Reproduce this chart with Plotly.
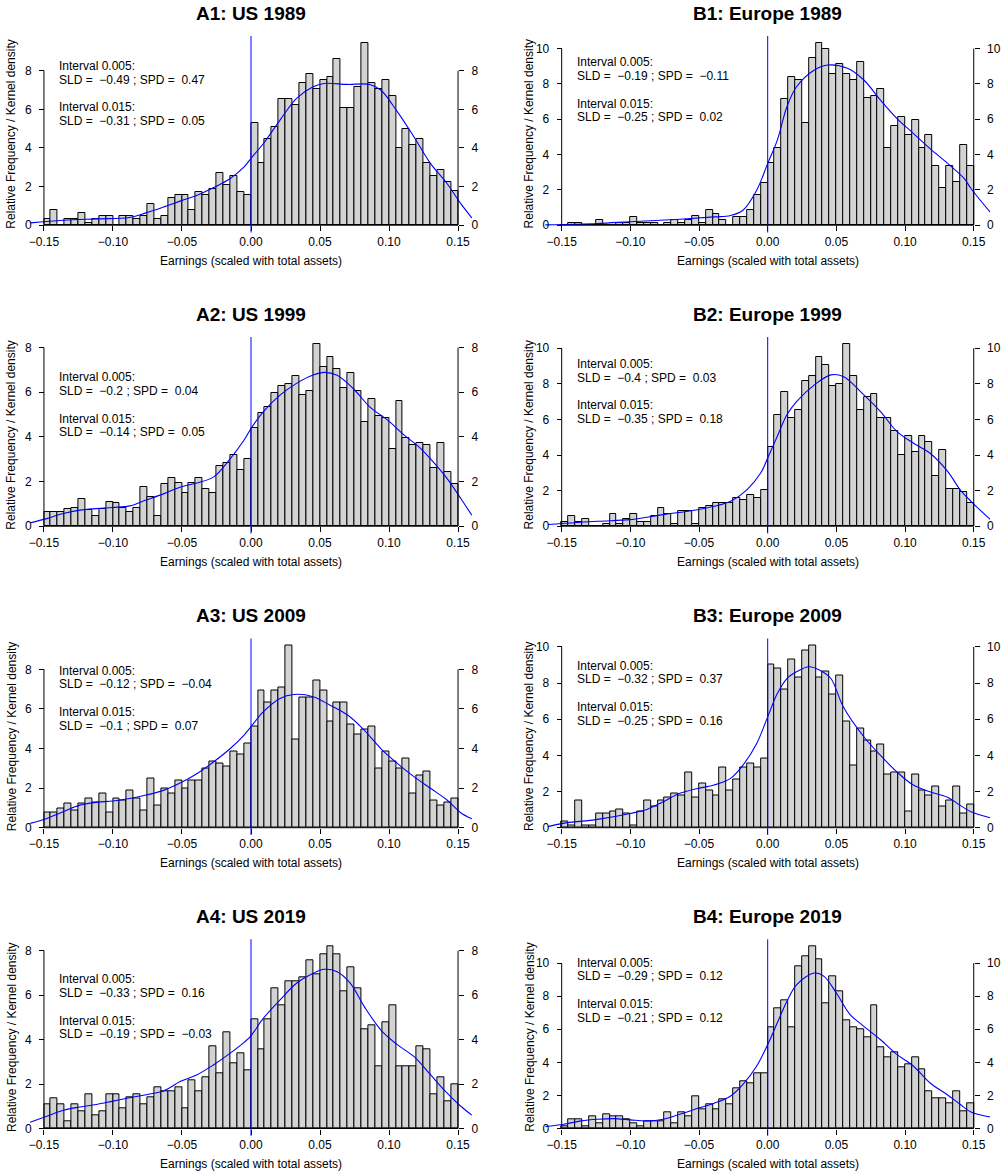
import plotly.graph_objects as go

W, H = 1004, 1174
FONT = "Liberation Sans, Arial, Helvetica, sans-serif"

# ---------------- data ----------------
bin_start = -0.15
bin_width = 0.005
x_ticks = [-0.15, -0.10, -0.05, 0.0, 0.05, 0.10, 0.15]
x_ticklabels = ["\u22120.15", "\u22120.10", "\u22120.05", "0.00", "0.05", "0.10", "0.15"]
y_ticks_A = [0, 2, 4, 6, 8]
y_ticks_B = [0, 2, 4, 6, 8, 10]

titles = ["A1: US 1989", "B1: Europe 1989", "A2: US 1999", "B2: Europe 1999",
          "A3: US 2009", "B3: Europe 2009", "A4: US 2019", "B4: Europe 2019"]

# relative frequencies (density) per bin of width 0.005 from -0.15 to 0.15
hist_A1 = [0.30, 0.78, 0, 0.30, 0.30, 0.64, 0.14, 0.30, 0.47, 0.47, 0, 0.47, 0.47, 0.30, 0.47,
           1.12, 0.30, 0.47, 1.42, 1.59, 1.59, 0.78, 1.73, 1.59, 1.90, 2.71, 2.06, 2.56, 1.73, 1.59,
           5.27, 3.20, 4.49, 5.11, 6.55, 6.55, 6.24, 7.34, 7.84, 7.03, 7.50, 7.65, 8.62, 6.07, 6.07,
           7.17, 9.42, 7.34, 7.03, 7.50, 6.70, 3.99, 4.96, 4.16, 4.48, 3.20, 2.56, 2.87, 2.23, 1.75]
hist_B1 = [0, 0.13, 0.13, 0, 0, 0.32, 0, 0, 0.13, 0.13, 0.49, 0.13, 0.13, 0.13, 0,
           0.13, 0.32, 0.13, 0.32, 0.50, 0.13, 0.85, 0.66, 0.32, 0, 0.49, 0.49, 0.87, 1.72, 2.40,
           3.50, 4.40, 7.16, 8.37, 8.20, 5.77, 9.45, 10.30, 9.96, 8.58, 9.11, 8.58, 8.20, 9.26, 7.18,
           7.33, 7.69, 4.39, 5.60, 6.10, 5.08, 5.95, 4.39, 5.08, 3.33, 2.08, 3.33, 2.42, 4.56, 3.33]
hist_A2 = [0.64, 0.64, 0.64, 0.75, 0.82, 1.20, 0.72, 0.45, 0.75, 1.10, 1.02, 0.82, 0.64, 0.82, 1.76,
           1.29, 0.45, 1.87, 2.14, 1.94, 1.49, 1.94, 2.14, 1.67, 1.49, 2.70, 2.81, 3.17, 2.53, 2.99,
           4.38, 5.05, 5.32, 5.99, 6.28, 6.37, 6.74, 5.87, 6.07, 8.15, 7.12, 7.59, 7.03, 6.17, 6.85,
           6.07, 4.68, 5.71, 4.95, 4.86, 3.45, 5.62, 3.93, 3.63, 3.74, 3.63, 2.62, 3.74, 2.44, 1.87]
hist_B2 = [0.26, 0.58, 0.26, 0.43, 0, 0, 0.15, 0.71, 0.15, 0.43, 0.71, 0.26, 0.26, 0.58, 1.03,
           0.71, 0.15, 0.88, 0.88, 0.15, 1.03, 1.16, 1.33, 1.33, 1.33, 1.61, 1.46, 1.76, 1.61, 2.06,
           4.45, 6.22, 7.55, 6.07, 6.52, 8.13, 8.45, 9.50, 9.05, 7.85, 8.00, 10.22, 8.45, 6.52, 7.25,
           7.40, 6.07, 6.07, 5.35, 4.00, 5.05, 4.17, 5.05, 4.75, 2.82, 4.30, 2.07, 2.07, 1.93, 1.31]
hist_A3 = [0.76, 0.76, 0.98, 1.23, 0.86, 1.23, 1.48, 1.26, 1.73, 0.76, 1.48, 1.40, 1.87, 1.48, 0.88,
           2.49, 1.13, 1.99, 1.73, 2.37, 1.99, 2.37, 2.37, 3.00, 3.35, 3.25, 3.11, 3.86, 3.72, 4.23,
           5.10, 6.95, 6.35, 6.95, 7.09, 9.19, 4.48, 6.57, 6.57, 7.46, 6.95, 5.35, 6.35, 6.35, 5.22,
           4.73, 4.98, 5.10, 3.00, 3.86, 3.35, 3.00, 3.48, 1.73, 2.63, 2.86, 1.36, 1.14, 1.26, 1.48]
hist_B3 = [0.37, 0.13, 1.53, 0.13, 0.13, 0.76, 0.76, 0.88, 1.01, 0.79, 0.13, 0.88, 1.53, 1.16, 1.53,
           1.66, 1.90, 1.80, 3.04, 1.66, 2.45, 2.04, 1.80, 3.31, 2.04, 2.67, 3.31, 3.55, 3.31, 3.83,
           9.04, 8.78, 7.64, 9.30, 8.29, 9.78, 10.06, 8.29, 8.66, 7.38, 8.40, 5.86, 3.44, 5.47, 4.84,
           4.22, 4.59, 2.95, 3.04, 3.04, 0.88, 2.95, 2.04, 1.80, 2.30, 1.16, 1.53, 2.30, 0.79, 1.29]
hist_A4 = [1.08, 1.38, 1.08, 0.31, 1.08, 0.78, 1.54, 0.61, 0.78, 1.54, 1.54, 0.93, 1.39, 1.54, 1.08,
           1.39, 1.85, 1.69, 1.69, 1.85, 0.93, 2.17, 1.69, 2.32, 3.71, 2.47, 4.32, 2.94, 3.39, 2.62,
           4.93, 3.54, 4.93, 6.31, 5.55, 6.61, 6.61, 6.79, 7.55, 6.94, 7.85, 8.18, 7.85, 6.16, 7.23,
           6.31, 4.47, 4.62, 2.80, 4.77, 5.55, 2.80, 2.80, 2.80, 3.69, 3.54, 1.55, 2.32, 1.23, 2.00]
hist_B4 = [0.16, 0.56, 0.56, 0.16, 0.72, 0.30, 0.86, 0.72, 0.72, 0.56, 0.30, 0.16, 0.42, 0.42, 0.42,
           1.00, 0.30, 1.00, 0.72, 1.93, 1.16, 1.45, 1.16, 1.77, 1.45, 2.41, 2.83, 2.71, 3.31, 3.31,
           6.14, 7.27, 7.75, 6.12, 9.80, 10.40, 11.00, 10.24, 7.59, 9.20, 8.31, 6.55, 6.12, 5.98, 5.52,
           7.43, 4.92, 4.32, 4.62, 3.71, 3.88, 4.32, 3.57, 2.23, 1.81, 1.81, 1.50, 2.23, 1.06, 1.50]

# kernel density curves
kde_x_A1 = [-0.160, -0.136, -0.112, -0.088, -0.076, -0.063, -0.051, -0.039, -0.027, -0.015, -0.005, 0.0,
            0.009, 0.021, 0.033, 0.045, 0.053, 0.070, 0.086, 0.094, 0.106, 0.118, 0.130, 0.142, 0.152, 0.160]
kde_y_A1 = [0.12, 0.26, 0.33, 0.40, 0.64, 0.95, 1.26, 1.55, 1.95, 2.42, 3.02, 3.46,
            4.23, 5.44, 6.57, 7.17, 7.34, 7.29, 7.29, 7.00, 5.88, 4.58, 3.20, 2.16, 1.12, 0.38]
kde_x_B1 = [-0.162, -0.124, -0.100, -0.064, -0.039, -0.027, -0.018, -0.008, 0.0, 0.007, 0.014, 0.021,
            0.034, 0.044, 0.058, 0.070, 0.082, 0.094, 0.106, 0.118, 0.131, 0.143, 0.148, 0.162]
kde_y_B1 = [0.02, 0.10, 0.20, 0.34, 0.47, 0.55, 0.85, 1.98, 3.50, 4.82, 6.71, 7.84,
            8.79, 9.07, 8.88, 8.22, 7.09, 6.05, 5.20, 4.35, 3.50, 2.65, 2.08, 0.74]
kde_x_A2 = [-0.160, -0.148, -0.136, -0.124, -0.112, -0.100, -0.088, -0.076, -0.063, -0.051, -0.039,
            -0.027, -0.015, -0.005, 0.0, 0.009, 0.021, 0.033, 0.045, 0.053, 0.062, 0.074, 0.086,
            0.099, 0.111, 0.123, 0.132, 0.142, 0.152, 0.160]
kde_y_A2 = [0.15, 0.34, 0.57, 0.72, 0.79, 0.84, 0.91, 1.17, 1.46, 1.76, 1.94,
            2.21, 3.03, 3.86, 4.38, 5.13, 5.87, 6.40, 6.77, 6.89, 6.77, 6.17, 5.35,
            4.75, 4.08, 3.48, 2.88, 2.14, 1.24, 0.49]
kde_x_B2 = [-0.160, -0.124, -0.100, -0.076, -0.051, -0.039, -0.027, -0.015, -0.005, 0.0, 0.007, 0.014,
            0.021, 0.034, 0.046, 0.055, 0.070, 0.082, 0.094, 0.106, 0.118, 0.131, 0.140, 0.148, 0.162]
kde_y_B2 = [0.10, 0.28, 0.37, 0.65, 0.93, 1.12, 1.40, 2.06, 3.00, 3.83, 5.05, 6.26,
            7.00, 7.94, 8.50, 8.41, 7.38, 6.45, 5.33, 4.67, 4.11, 3.08, 2.06, 1.40, 0.38]
kde_x_A3 = [-0.160, -0.148, -0.136, -0.124, -0.112, -0.100, -0.088, -0.076, -0.063, -0.051, -0.039,
            -0.027, -0.015, -0.005, 0.0, 0.009, 0.021, 0.031, 0.045, 0.057, 0.070, 0.082, 0.094,
            0.106, 0.118, 0.130, 0.142, 0.152, 0.160]
kde_y_A3 = [0.22, 0.47, 0.81, 1.14, 1.28, 1.35, 1.48, 1.65, 1.90, 2.27, 2.74,
            3.33, 4.00, 4.68, 5.10, 5.86, 6.53, 6.73, 6.62, 6.20, 5.69, 4.93, 4.00,
            3.25, 2.58, 1.99, 1.40, 0.76, 0.45]
kde_x_B3 = [-0.160, -0.149, -0.124, -0.100, -0.088, -0.076, -0.064, -0.051, -0.039, -0.027, -0.018,
            -0.008, 0.0, 0.007, 0.014, 0.021, 0.030, 0.038, 0.046, 0.055, 0.070, 0.082, 0.094,
            0.106, 0.118, 0.131, 0.140, 0.148, 0.162]
kde_y_B3 = [0.06, 0.24, 0.46, 0.79, 1.01, 1.44, 1.90, 2.17, 2.36, 2.73, 3.46,
            4.66, 6.13, 7.42, 8.25, 8.62, 8.90, 8.71, 8.25, 6.69, 5.03, 4.01, 3.09,
            2.36, 1.99, 1.68, 1.25, 0.88, 0.55]
kde_x_A4 = [-0.160, -0.148, -0.136, -0.124, -0.112, -0.100, -0.088, -0.076, -0.063, -0.051, -0.039,
            -0.027, -0.015, -0.005, 0.0, 0.009, 0.021, 0.033, 0.045, 0.053, 0.062, 0.072, 0.082,
            0.094, 0.106, 0.118, 0.130, 0.142, 0.152, 0.160]
kde_y_A4 = [0.28, 0.55, 0.82, 0.97, 1.08, 1.23, 1.38, 1.52, 1.70, 2.12, 2.42,
            2.87, 3.39, 3.87, 4.17, 4.96, 5.78, 6.53, 6.98, 7.16, 7.06, 6.53, 5.49,
            4.44, 3.77, 3.24, 2.42, 1.60, 1.00, 0.60]
kde_x_B4 = [-0.162, -0.1485, -0.136, -0.124, -0.112, -0.100, -0.088, -0.076, -0.064, -0.051,
            -0.039, -0.027, -0.018, -0.008, 0.0, 0.007, 0.014, 0.021, 0.034, 0.041,
            0.050, 0.060, 0.070, 0.082, 0.094, 0.106, 0.118, 0.131, 0.140, 0.148, 0.162]
kde_y_B4 = [0.12, 0.26, 0.46, 0.56, 0.60, 0.52, 0.46, 0.56, 0.86, 1.22,
            1.53, 1.97, 2.67, 3.78, 5.08, 6.39, 7.69, 8.69, 9.40, 9.20,
            8.19, 6.89, 6.18, 5.38, 4.48, 3.78, 2.77, 2.03, 1.47, 1.00, 0.70]

# statistics printed in each panel: (SLD 0.005, SPD 0.005, SLD 0.015, SPD 0.015)
stats = [("\u22120.49", "0.47", "\u22120.31", "0.05"),
         ("\u22120.19", "\u22120.11", "\u22120.25", "0.02"),
         ("\u22120.2", "0.04", "\u22120.14", "0.05"),
         ("\u22120.4", "0.03", "\u22120.35", "0.18"),
         ("\u22120.12", "\u22120.04", "\u22120.1", "0.07"),
         ("\u22120.32", "0.37", "\u22120.25", "0.16"),
         ("\u22120.33", "0.16", "\u22120.19", "\u22120.03"),
         ("\u22120.29", "0.12", "\u22120.21", "0.12")]

hists = [hist_A1, hist_B1, hist_A2, hist_B2, hist_A3, hist_B3, hist_A4, hist_B4]
kdes = [(kde_x_A1, kde_y_A1), (kde_x_B1, kde_y_B1), (kde_x_A2, kde_y_A2), (kde_x_B2, kde_y_B2),
        (kde_x_A3, kde_y_A3), (kde_x_B3, kde_y_B3), (kde_x_A4, kde_y_A4), (kde_x_B4, kde_y_B4)]
yticks = [y_ticks_A, y_ticks_B] * 4

# ---------------- layout geometry (pixels) ----------------
XR = [-0.162, 0.162]
col_px = [(27.4, 474.6), (545.2, 990.2)]
row_top = [36.0, 337.0, 638.5, 939.3]
row_h = 196.5
text_off = [30.0, 26.3, 40.3, 27.0, 32.2, 27.2, 40.0, 23.4]   # first text line centre below plot top
line_off = [0.0, 13.75, 41.25, 55.0]

BAR_FILL = "#d3d3d3"
BLUE = "#0000ff"

fig = go.Figure()
annotations = []
shapes = []
layout_axes = {}


def py(p):
    return 1 - p / H


centers = [bin_start + bin_width * (i + 0.5) for i in range(len(hist_A1))]

for k in range(8):
    n = k + 1
    r, c = divmod(k, 2)
    xname = "x" if n == 1 else f"x{n}"
    yname = "y" if n == 1 else f"y{n}"
    yrname = f"y{n + 8}"
    xkey = "xaxis" if n == 1 else f"xaxis{n}"
    ykey = "yaxis" if n == 1 else f"yaxis{n}"
    yrkey = f"yaxis{n + 8}"

    vals = hists[k]
    M = max(vals)
    yr = [-0.04 * M, 1.04 * M]
    x0p, x1p = col_px[c]
    top = row_top[r]
    bot = top + row_h
    xdom = [x0p / W, x1p / W]
    ydom = [py(bot), py(top)]

    def xfrac(v):
        return xdom[0] + (v - XR[0]) / (XR[1] - XR[0]) * (xdom[1] - xdom[0])

    def yfrac(v):
        return ydom[0] + (v - yr[0]) / (yr[1] - yr[0]) * (ydom[1] - ydom[0])

    tickfont = dict(family=FONT, size=12, color="black")
    layout_axes[xkey] = dict(domain=xdom, range=XR, anchor="free", position=yfrac(0),
                             tickvals=x_ticks, ticktext=x_ticklabels, ticks="outside", ticklen=5,
                             tickcolor="black", showline=False, showgrid=False, zeroline=False,
                             tickfont=tickfont, fixedrange=True)
    yt = yticks[k]
    layout_axes[ykey] = dict(domain=ydom, range=yr, anchor="free", position=xfrac(x_ticks[0]),
                             side="left", tickvals=yt, ticks="outside", ticklen=5, tickcolor="black",
                             showline=False, showgrid=False, zeroline=False, tickfont=tickfont,
                             ticklabelstandoff=5, fixedrange=True)
    layout_axes[yrkey] = dict(overlaying=yname, range=yr, anchor="free", position=xfrac(x_ticks[-1]),
                              side="right", tickvals=yt, ticks="outside", ticklen=5, tickcolor="black",
                              showline=False, showgrid=False, zeroline=False, tickfont=tickfont,
                              ticklabelstandoff=5, fixedrange=True)

    fig.add_trace(go.Bar(x=centers, y=vals, width=bin_width, xaxis=xname, yaxis=yname,
                         marker=dict(color=BAR_FILL, line=dict(color="black", width=1)),
                         showlegend=False, hoverinfo="skip"))
    kx, ky = kdes[k]
    fig.add_trace(go.Scatter(x=kx, y=ky, mode="lines", xaxis=xname, yaxis=yname,
                             line=dict(color=BLUE, width=1.1, shape="spline", smoothing=1.0),
                             showlegend=False, hoverinfo="skip"))
    # invisible trace so the right-hand axis is drawn
    fig.add_trace(go.Scatter(x=[None], y=[None], mode="markers", xaxis=xname, yaxis=yrname,
                             showlegend=False, hoverinfo="skip"))

    # axis lines (R style, spanning first to last tick)
    ln = dict(color="black", width=1)
    shapes.append(dict(type="line", xref=xname, yref=yname, x0=x_ticks[0], x1=x_ticks[-1],
                       y0=0, y1=0, line=ln))
    shapes.append(dict(type="line", xref=xname, yref=yname, x0=x_ticks[0], x1=x_ticks[0],
                       y0=yt[0], y1=yt[-1], line=ln))
    shapes.append(dict(type="line", xref=xname, yref=yname, x0=x_ticks[-1], x1=x_ticks[-1],
                       y0=yt[0], y1=yt[-1], line=ln))
    # vertical line at zero
    shapes.append(dict(type="line", xref=xname, yref=f"{yname} domain", x0=0, x1=0, y0=0, y1=1,
                       line=dict(color=BLUE, width=1)))

    cx = (xdom[0] + xdom[1]) / 2
    annotations.append(dict(text=f"<b>{titles[k]}</b>", xref="paper", yref="paper", x=cx,
                            y=py(top - 22.7), xanchor="center", yanchor="middle", showarrow=False,
                            font=dict(family=FONT, size=19, color="black")))
    annotations.append(dict(text="Earnings (scaled with total assets)", xref="paper", yref="paper",
                            x=cx, y=py(bot + 28.4), xanchor="center", yanchor="middle",
                            showarrow=False, font=dict(family=FONT, size=12, color="black")))
    annotations.append(dict(text="Relative Frequency / Kernel density", xref="paper", yref="paper",
                            x=(x0p - 16) / W, y=(ydom[0] + ydom[1]) / 2, xanchor="center",
                            yanchor="middle", textangle=-90, showarrow=False,
                            font=dict(family=FONT, size=12, color="black")))
    s = stats[k]
    lines = ["Interval 0.005:", f"SLD =  {s[0]} ; SPD =  {s[1]}",
             "Interval 0.015:", f"SLD =  {s[2]} ; SPD =  {s[3]}"]
    for li, txt in enumerate(lines):
        annotations.append(dict(text=txt, xref=xname, yref="paper", x=-0.1405,
                                y=py(top + text_off[k] + line_off[li]), xanchor="left",
                                yanchor="middle", showarrow=False,
                                font=dict(family=FONT, size=12, color="black")))

fig.update_layout(width=W, height=H, margin=dict(l=0, r=0, t=0, b=0),
                  paper_bgcolor="white", plot_bgcolor="white", showlegend=False,
                  bargap=0, annotations=annotations, shapes=shapes,
                  font=dict(family=FONT, size=12, color="black"), **layout_axes)

fig.write_html("out.html", config={"displayModeBar": False},
               post_script="document.body.style.margin='0';document.body.style.overflow='hidden';")
